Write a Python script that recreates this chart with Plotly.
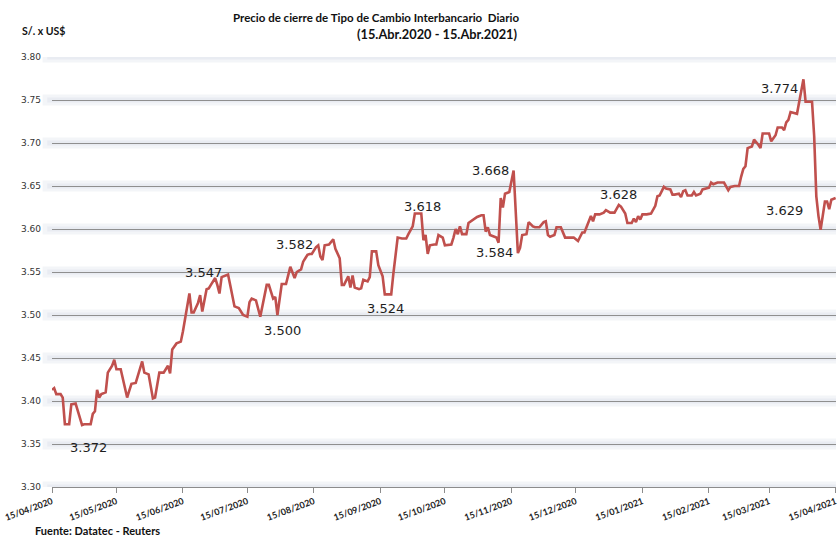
import pandas as pd
import plotly.graph_objects as go

fecha_inicio = "2020-04-15"
# dias transcurridos desde el 15/04/2020 y precio de cierre (S/. por US$)
dias = [0, 1, 2, 4, 5, 6, 8, 9, 11, 12,
        14, 15, 18, 19, 20, 21, 22, 23, 25, 26,
        28, 29, 30, 32, 33, 35, 36, 37, 39, 40,
        42, 43, 45, 47, 48, 50, 52, 54, 55, 56,
        58, 60, 61, 64, 65, 66, 68, 69, 70, 72,
        73, 74, 76, 77, 78, 79, 82, 83, 85, 87,
        89, 91, 92, 93, 95, 97, 98, 100, 101, 103,
        104, 105, 107, 109, 110, 111, 113, 114, 116, 117,
        118, 119, 120, 121, 123, 124, 125, 126, 127, 129,
        131, 132, 134, 135, 136, 138, 139, 140, 141, 143,
        144, 145, 147, 148, 149, 151, 152, 154, 155, 158,
        159, 161, 163, 165, 166, 168, 169, 172, 173, 174,
        175, 176, 178, 179, 180, 182, 183, 186, 187, 188,
        189, 190, 191, 193, 194, 196, 198, 200, 201, 202,
        203, 204, 205, 207, 208, 209, 210, 211, 213, 215,
        217, 218, 219, 221, 222, 223, 224, 225, 227, 229,
        230, 231, 232, 234, 235, 237, 239, 243, 245, 246,
        247, 248, 250, 251, 252, 253, 255, 257, 258, 260,
        262, 264, 265, 267, 268, 270, 271, 272, 273, 274,
        275, 277, 279, 281, 282, 283, 285, 286, 288, 289,
        290, 292, 293, 294, 295, 296, 298, 299, 300, 302,
        303, 305, 306, 307, 308, 310, 313, 315, 316, 318,
        320, 321, 322, 323, 324, 326, 327, 329, 330, 331,
        334, 335, 337, 338, 340, 341, 342, 343, 344, 347,
        348, 349, 350, 351, 354, 355, 356, 357, 358, 360,
        361, 362, 363, 365]
valores = [3.413, 3.415, 3.408, 3.408, 3.404, 3.373, 3.373, 3.396, 3.397, 3.389,
           3.372, 3.373, 3.373, 3.385, 3.388, 3.413, 3.404, 3.408, 3.410, 3.433,
           3.441, 3.448, 3.437, 3.437, 3.426, 3.404, 3.412, 3.420, 3.421, 3.429,
           3.446, 3.433, 3.431, 3.403, 3.404, 3.433, 3.433, 3.441, 3.432, 3.460,
           3.467, 3.469, 3.481, 3.525, 3.503, 3.503, 3.514, 3.523, 3.504, 3.530,
           3.531, 3.535, 3.543, 3.535, 3.525, 3.544, 3.547, 3.535, 3.510, 3.508,
           3.500, 3.498, 3.515, 3.519, 3.517, 3.498, 3.510, 3.535, 3.535, 3.519,
           3.521, 3.500, 3.536, 3.536, 3.546, 3.556, 3.543, 3.550, 3.553, 3.562,
           3.566, 3.570, 3.571, 3.571, 3.579, 3.581, 3.568, 3.564, 3.581, 3.582,
           3.588, 3.577, 3.566, 3.535, 3.535, 3.545, 3.532, 3.546, 3.532, 3.530,
           3.531, 3.541, 3.539, 3.544, 3.574, 3.574, 3.558, 3.545, 3.524, 3.524,
           3.548, 3.590, 3.589, 3.589, 3.594, 3.603, 3.618, 3.618, 3.587, 3.593,
           3.571, 3.581, 3.582, 3.582, 3.593, 3.590, 3.581, 3.582, 3.590, 3.600,
           3.594, 3.603, 3.594, 3.594, 3.607, 3.611, 3.614, 3.616, 3.616, 3.597,
           3.602, 3.593, 3.592, 3.590, 3.584, 3.636, 3.625, 3.641, 3.643, 3.668,
           3.572, 3.578, 3.593, 3.594, 3.608, 3.605, 3.603, 3.602, 3.602, 3.608,
           3.609, 3.593, 3.591, 3.593, 3.602, 3.602, 3.590, 3.590, 3.586, 3.591,
           3.596, 3.596, 3.608, 3.615, 3.609, 3.617, 3.617, 3.619, 3.622, 3.619,
           3.619, 3.628, 3.626, 3.618, 3.607, 3.607, 3.612, 3.608, 3.615, 3.611,
           3.617, 3.617, 3.618, 3.627, 3.638, 3.639, 3.649, 3.647, 3.646, 3.640,
           3.640, 3.641, 3.637, 3.644, 3.645, 3.639, 3.639, 3.643, 3.639, 3.641,
           3.646, 3.647, 3.648, 3.654, 3.652, 3.654, 3.654, 3.645, 3.649, 3.650,
           3.650, 3.661, 3.670, 3.673, 3.694, 3.696, 3.704, 3.698, 3.694, 3.711,
           3.711, 3.702, 3.709, 3.718, 3.718, 3.715, 3.724, 3.727, 3.736, 3.734,
           3.747, 3.763, 3.774, 3.748, 3.748, 3.708, 3.638, 3.615, 3.599, 3.632,
           3.632, 3.623, 3.634, 3.636]
assert len(dias) == len(valores)

tick_fechas = ["2020-04-15", "2020-05-15", "2020-06-15", "2020-07-15", "2020-08-15",
               "2020-09-15", "2020-10-15", "2020-11-15", "2020-12-15", "2021-01-15",
               "2021-02-15", "2021-03-15", "2021-04-15"]
tick_textos = ["15/04/2020", "15/05/2020", "15/06/2020", "15/07/2020", "15/08/2020",
               "15/09/2020", "15/10/2020", "15/11/2020", "15/12/2020", "15/01/2021",
               "15/02/2021", "15/03/2021", "15/04/2021"]

etiquetas_dias = [14, 82, 105, 129, 155, 169, 215, 208, 264, 350, 365]
etiquetas_texto = ["3.372", "3.547", "3.500", "3.582", "3.524", "3.618",
                   "3.668", "3.584", "3.628", "3.774", "3.629"]
etiquetas_desp = [(6, -22), (-25, 2), (5, -15), (-34, 0), (1, -14), (8, 7),
                  (-23, 0), (-4, -10), (0, 10), (-24, -9), (-51, -12)]

base = pd.Timestamp(fecha_inicio)
fechas = base + pd.to_timedelta(dias, unit="D")

fig = go.Figure()
fig.add_trace(go.Scatter(x=fechas, y=valores, mode="lines",
                         line=dict(color="#C0504D", width=2.6),
                         hoverinfo="skip", showlegend=False))

# soft glow behind gridlines
shapes = []
for i in range(11):
    v = 3.30 + 0.05 * i
    shapes.append(dict(type="line", xref="paper", yref="y", x0=-0.012, x1=1, y0=v, y1=v,
                       line=dict(color="#f3f5f8", width=11), layer="below"))
    shapes.append(dict(type="line", xref="paper", yref="y", x0=-0.006, x1=1, y0=v, y1=v,
                       line=dict(color="#e9ecf2", width=5), layer="below"))

annotations = []
for d, t, (dx, dy) in zip(etiquetas_dias, etiquetas_texto, etiquetas_desp):
    idx = dias.index(d)
    annotations.append(dict(x=fechas[idx], y=valores[idx], xref="x", yref="y",
                            text=t, showarrow=False, xshift=dx, yshift=dy,
                            font=dict(family="DejaVu Sans", size=13, color="#1e1e1e")))

annotations += [
    dict(text="Precio de cierre de Tipo de Cambio Interbancario  Diario", xref="paper", yref="paper",
         x=(522 - 52) / 786, y=1 + (57 - 17) / 430, showarrow=False, xanchor="right", yanchor="middle",
         font=dict(family="Lato", size=11.5, color="#111111", weight="bold")),
    dict(text="(15.Abr.2020 - 15.Abr.2021)", xref="paper", yref="paper",
         x=(521 - 52) / 786, y=1 + (57 - 34) / 430, showarrow=False, xanchor="right", yanchor="middle",
         font=dict(family="Lato", size=12.8, color="#111111", weight="bold")),
    dict(text="S/. x US$", xref="paper", yref="paper",
         x=(20 - 52) / 786, y=1 + (57 - 31) / 430, showarrow=False, xanchor="left", yanchor="middle",
         font=dict(family="Lato", size=10.5, color="#111111", weight="bold")),
    dict(text="Fuente: Datatec - Reuters", xref="paper", yref="paper",
         x=(33 - 52) / 786, y=-(530 - 487) / 430, showarrow=False, xanchor="left", yanchor="middle",
         font=dict(family="Lato", size=11, color="#111111", weight="bold")),
]

fig.update_layout(
    width=838, height=537,
    margin=dict(l=52, r=0, t=57, b=50),
    paper_bgcolor="white", plot_bgcolor="white",
    shapes=shapes, annotations=annotations,
    xaxis=dict(range=[tick_fechas[0], "2021-04-15 04:00"], tickvals=tick_fechas, ticktext=tick_textos,
               tickangle=-20, showgrid=False, showline=True, linecolor="#8c8c8c", linewidth=1,
               ticks="outside", ticklen=5, tickcolor="#8c8c8c", zeroline=False,
               ticklabeloverflow="allow",
               tickfont=dict(family="Lato", size=9, color="#222222", weight="bold")),
    yaxis=dict(range=[3.30, 3.80], dtick=0.05, tick0=3.30, tickformat=".2f",
               showgrid=True, gridcolor="#8f8f8f", gridwidth=1, zeroline=False, showline=False,
               ticks="", ticklabelstandoff=10,
               tickfont=dict(family="DejaVu Sans", size=9, color="#333333")),
)

fig.write_html("out.html", config={"displayModeBar": False},
               post_script="document.body.style.margin='0';document.body.style.overflow='hidden';")
